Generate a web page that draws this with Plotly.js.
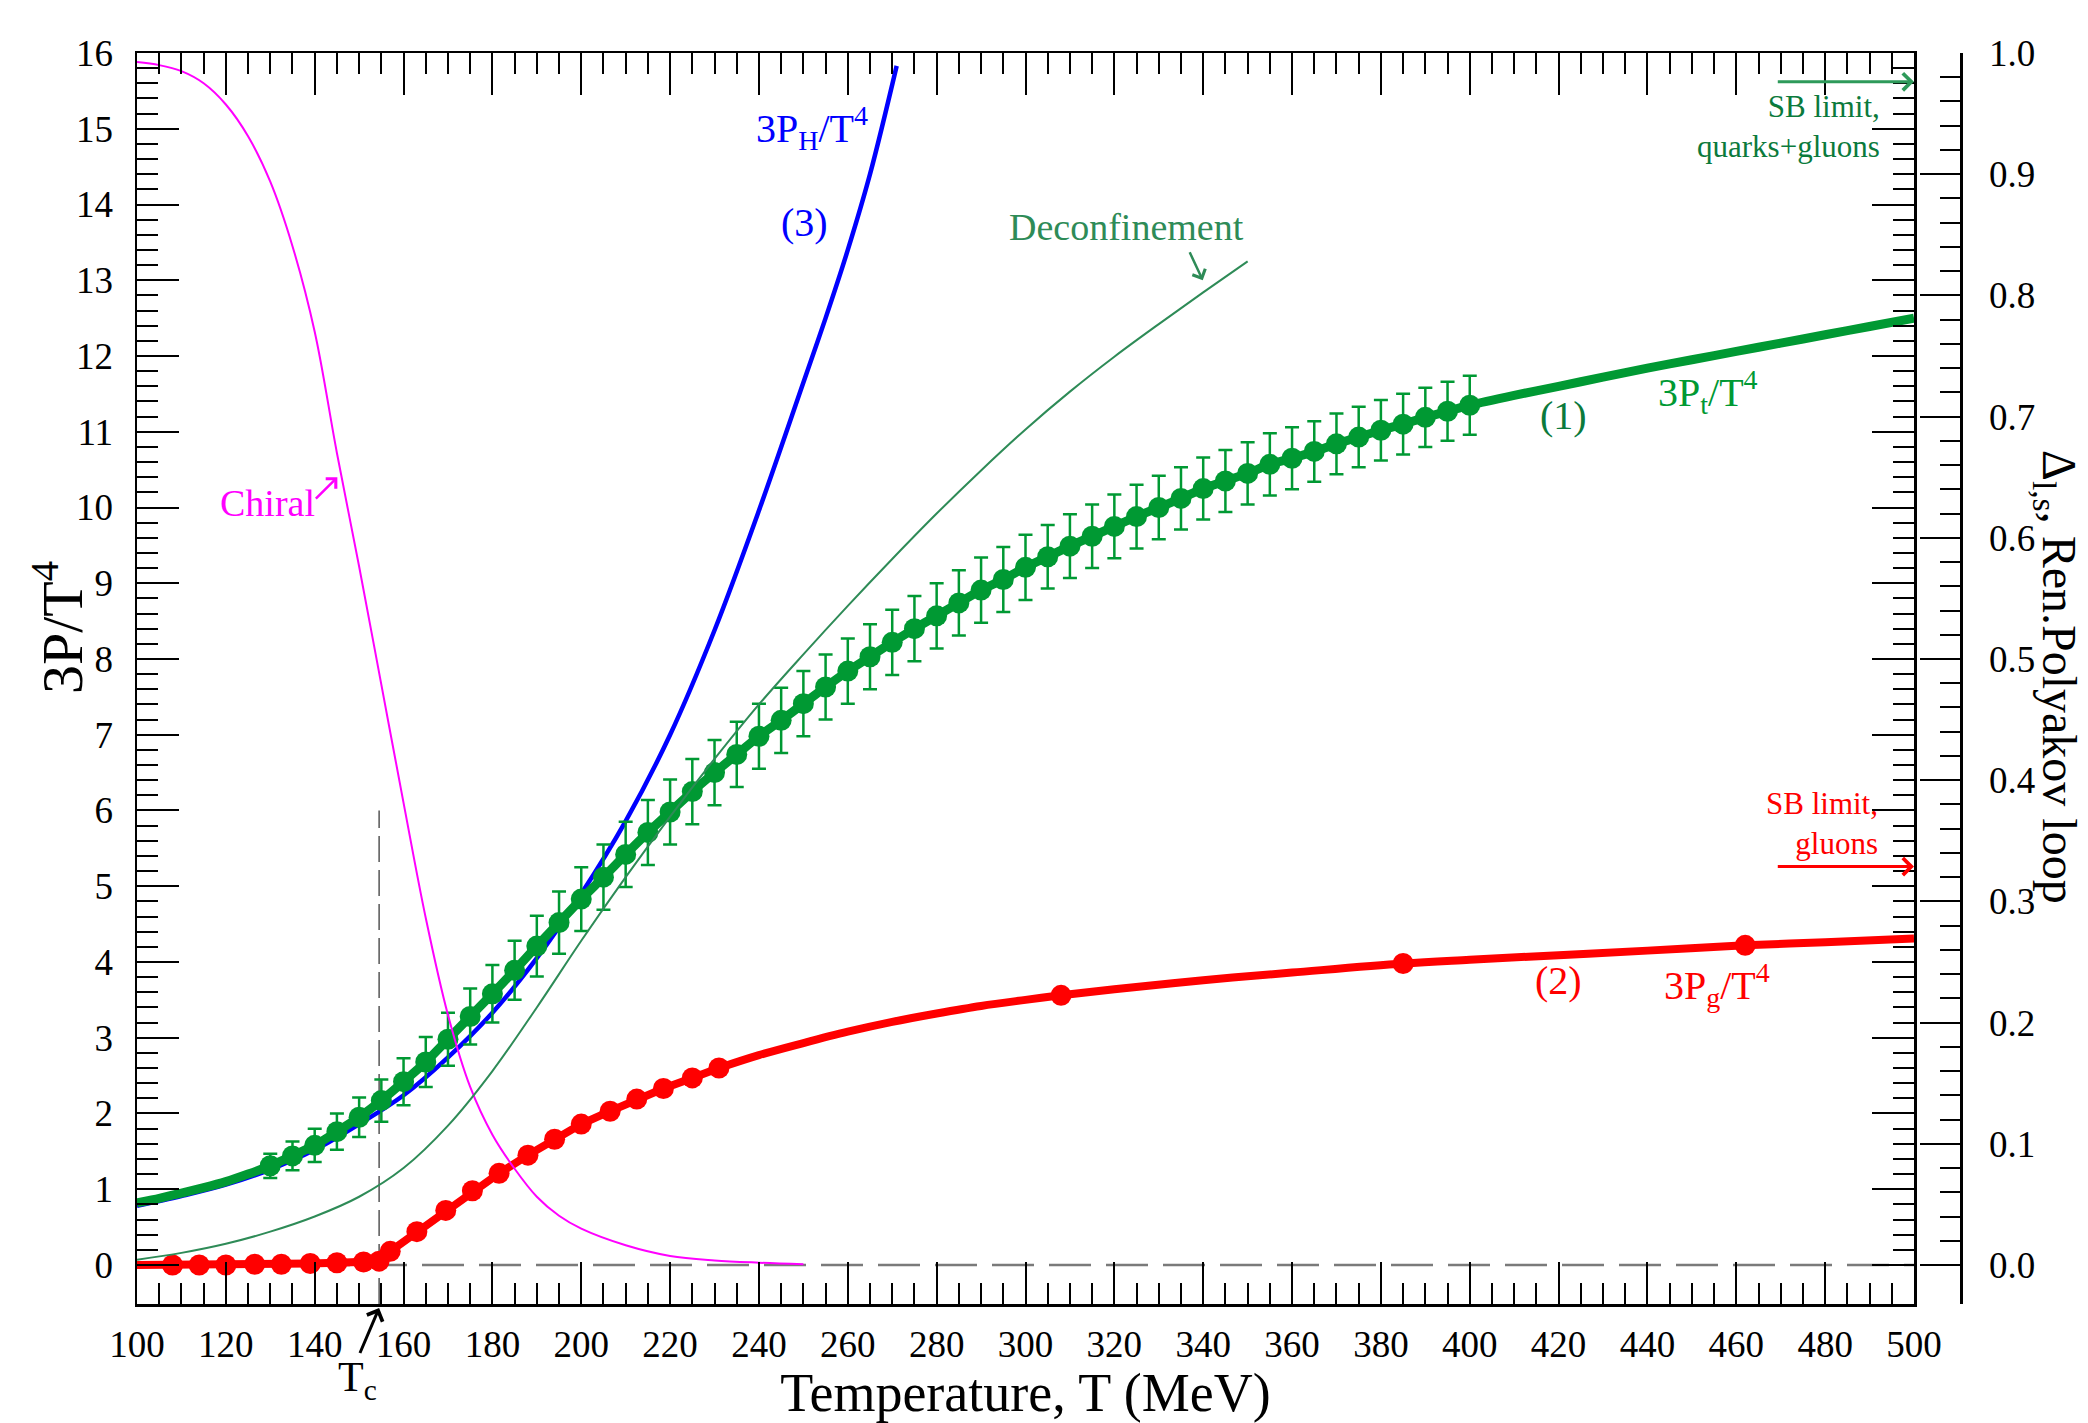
<!DOCTYPE html>
<html>
<head>
<meta charset="utf-8">
<script src="https://cdn.plot.ly/plotly-3.0.1.min.js"></script>
<style>html,body{margin:0;padding:0;background:#fff}</style>
</head>
<body>
<div id="chart" style="width:2088px;height:1423px"></div>
<script>
// ---------------- data ----------------
const Tc = 154.5;
// total pressure 3P_t/T^4 (lattice points with errors)
const T_pt = [130,135,140,145,150,155,160,165,170,175,180,185,190,195,200,205,210,215,220,225,230,235,240,245,250,255,260,265,270,275,280,285,290,295,300,305,310,315,320,325,330,335,340,345,350,355,360,365,370,375,380,385,390,395,400];
const P_pt = [1.31,1.44,1.58,1.76,1.95,2.17,2.42,2.68,2.98,3.28,3.58,3.89,4.21,4.52,4.83,5.12,5.42,5.71,5.98,6.25,6.50,6.74,6.98,7.19,7.41,7.63,7.84,8.03,8.22,8.40,8.57,8.74,8.91,9.05,9.21,9.35,9.49,9.62,9.75,9.88,10.00,10.12,10.25,10.35,10.45,10.57,10.65,10.74,10.84,10.93,11.02,11.10,11.19,11.27,11.35];
const E_pt = [0.16,0.19,0.22,0.24,0.26,0.28,0.31,0.33,0.35,0.37,0.38,0.39,0.40,0.41,0.42,
              0.43,0.43,0.43,0.43,0.43,0.43,0.43,0.43,0.43,0.43,0.43,0.43,0.43,0.43,0.43,0.43,0.43,0.43,0.43,0.43,
              0.42,0.42,0.42,0.42,0.42,0.42,
              0.41,0.41,0.41,0.41,0.41,0.41,
              0.40,0.40,0.40,0.40,0.40,
              0.39,0.39,0.39];
// smooth continuation of 3P_t/T^4 below and above the lattice points
const T_pt_low = [100,105,110,115,120,125];
const P_pt_low = [0.82,0.88,0.95,1.02,1.10,1.20];
const T_pt_high = [410,420,430,440,450,460,470,480,490,500];
const P_pt_high = [11.48,11.60,11.72,11.84,11.95,12.06,12.17,12.28,12.39,12.50];

// gluon pressure 3P_g/T^4
const T_pg_pts = [108,114,120,126.5,132.5,139,145,151,154.5,157,163,169.5,175.5,181.5,188,194,200,206.5,212.5,218.5,225,231,308,385,462];
const P_pg_pts = [0.00,0.00,0.00,0.01,0.01,0.02,0.03,0.04,0.05,0.18,0.44,0.72,0.98,1.21,1.45,1.66,1.86,2.03,2.19,2.33,2.47,2.60,3.56,3.98,4.22];
const T_pg_low = [100,108,114,120,126.5,132.5,139,145,151,154.5,157,163,169.5,175.5,181.5,188,194,200,206.5,212.5,218.5,225,231];
const P_pg_low = [0,0,0,0,0.01,0.01,0.02,0.03,0.04,0.05,0.18,0.44,0.72,0.98,1.21,1.45,1.66,1.86,2.03,2.19,2.33,2.47,2.60];
const T_pg_high = [231,240,250,260,270,280,290,300,308,320,340,360,385,400,420,440,462,480,500];
const P_pg_high = [2.60,2.77,2.93,3.08,3.21,3.32,3.42,3.50,3.56,3.64,3.76,3.86,3.98,4.03,4.09,4.15,4.22,4.26,4.31];

// hadron resonance gas 3P_H/T^4
const T_ph = [100,110,120,130,140,150,160,170,180,190,200,210,220,230,240,250,255,260,265,271];
const P_ph = [0.78,0.91,1.06,1.26,1.52,1.86,2.24,2.74,3.33,4.05,4.90,5.86,7.00,8.38,9.96,11.65,12.50,13.40,14.40,15.83];

// chiral order parameter Delta_{l,s} (right axis)
const T_chiral = [100,105,110,115,120,125,130,135,140,145,150,155,160,165,170,175,180,185,190,195,200,210,220,230,240,250];
const D_chiral = [0.9925,0.9900,0.9850,0.9750,0.9575,0.9313,0.8938,0.8406,0.7700,0.6700,0.5763,0.4788,0.3813,0.2863,0.2063,0.1469,0.1075,0.0794,0.0563,0.0406,0.0300,0.0163,0.0075,0.0038,0.0019,0.0006];

// renormalized Polyakov loop (right axis)
const T_loop = [100,110,120,130,140,150,160,170,180,190,200,210,220,230,240,250,260,270,280,290,300,310,320,330,340,350];
const L_loop = [0.0044,0.0100,0.0175,0.0275,0.0400,0.0563,0.0800,0.1150,0.1600,0.2125,0.2675,0.3200,0.3700,0.4175,0.4625,0.5038,0.5438,0.5825,0.6200,0.6556,0.6894,0.7206,0.7494,0.7763,0.8025,0.8281];

// Stefan-Boltzmann limits of 3P/T^4
const SB_qg = 15.62;
const SB_g = 5.26;

const xTicks = [100,120,140,160,180,200,220,240,260,280,300,320,340,360,380,400,420,440,460,480,500];

// ---------------- helpers ----------------
function steps(a, b, s) { const r = []; for (let v = a; v <= b + 1e-9; v += s) r.push(+v.toFixed(4)); return r; }
const FONT = 'Liberation Serif, Times New Roman, serif';
const GREEN = '#009933', DKGREEN = '#0b7a3c', SEAGREEN = '#2e8b57';

// ---------------- traces ----------------
const traces = [
  { x: T_chiral, y: D_chiral, yaxis: 'y2', mode: 'lines', line: { color: '#ff00ff', width: 2, shape: 'spline' } },
  { x: T_loop, y: L_loop, yaxis: 'y2', mode: 'lines', line: { color: SEAGREEN, width: 2, shape: 'spline' } },
  { x: T_ph, y: P_ph, mode: 'lines', line: { color: '#0000ff', width: 4.5, shape: 'spline' } },
  { x: T_pt_low.concat(T_pt, T_pt_high), y: P_pt_low.concat(P_pt, P_pt_high), mode: 'lines', line: { color: GREEN, width: 9, shape: 'spline', smoothing: 0.6 } },
  { x: T_pt, y: P_pt, mode: 'markers', marker: { color: GREEN, size: 21 },
    error_y: { type: 'data', array: E_pt, visible: true, color: GREEN, thickness: 2.5, width: 7 } },
  { x: T_pg_low, y: P_pg_low, mode: 'lines', line: { color: '#ff0000', width: 8 } },
  { x: T_pg_high, y: P_pg_high, mode: 'lines', line: { color: '#ff0000', width: 8, shape: 'spline' } },
  { x: T_pg_pts, y: P_pg_pts, mode: 'markers', marker: { color: '#ff0000', size: 21 } }
];

// ---------------- layout ----------------
const L = 137, R = 1961, TOP = 53, BOT = 1304;
const px = v => (v - L) / (R - L);
const py = v => (BOT - v) / (BOT - TOP);

function txt(text, x, y, color, size, extra) {
  return Object.assign({ text, x: px(x), y: py(y), xref: 'paper', yref: 'paper', showarrow: false,
    xanchor: 'center', yanchor: 'middle', font: { family: FONT, size, color } }, extra || {});
}
function arrow(x, y, ax, ay, color, extra) {
  return Object.assign({ text: ' ', x, y, xref: 'x', yref: 'y', ax, ay, showarrow: true,
    arrowhead: 4, arrowsize: 1.1, arrowwidth: 3, arrowcolor: color, standoff: 0, startstandoff: 0,
    font: { size: 1 } }, extra || {});
}

const annotations = [
  txt('3P<sub>H</sub>/T<sup>4</sup>', 812, 128, '#0000ff', 40),
  txt('(3)', 804, 223, '#0000ff', 40),
  txt('Deconfinement', 1126, 227, SEAGREEN, 38),
  txt('Chiral', 267, 503, '#ff00ff', 38),
  txt('3P<sub>t</sub>/T<sup>4</sup>', 1708, 392, GREEN, 40),
  txt('(1)', 1563, 416, DKGREEN, 40),
  txt('SB limit,<br>quarks+gluons', 1882, 126, DKGREEN, 31, { xanchor: 'right', align: 'right' }),
  txt('SB limit,<br>gluons', 1880, 824, '#ff0000', 31, { xanchor: 'right', align: 'right' }),
  txt('(2)', 1558, 980, '#ff0000', 40),
  txt('3P<sub>g</sub>/T<sup>4</sup>', 1717, 985, '#ff0000', 40),
  txt('T<sub>c</sub>', 357, 1380, '#000000', 42),
  // axis titles on the left and right
  txt('3P/T<sup>4</sup>', 58, 628, '#000000', 58, { textangle: -90 }),
  txt('Δ<sub>l,s</sub>, Ren.Polyakov loop', 2056, 677, '#000000', 48, { textangle: 90 }),
  // arrows
  arrow(500, SB_qg, 469, SB_qg, '#2e9a5a', { axref: 'x', ayref: 'y' }),
  arrow(500, SB_g, 469, SB_g, '#ff0000', { axref: 'x', ayref: 'y' }),
  arrow(Tc, py(1308), -20, 47, '#000000', { yref: 'paper' }),
  arrow(145.1, 10.40, -23, 23, '#ff00ff', { arrowwidth: 2.5 }),
  arrow(339.9, 13.0, -14, -30, SEAGREEN, { arrowwidth: 2.5 })
];

const shapes = [
  { type: 'line', xref: 'x', yref: 'y', x0: 100, x1: 500, y0: 0, y1: 0, layer: 'below',
    line: { color: '#7a7a7a', width: 2.5, dash: '42px,15px' } },
  { type: 'line', xref: 'x', yref: 'y', x0: Tc, x1: Tc, y0: -0.515, y1: 6, layer: 'below',
    line: { color: '#555555', width: 1.5, dash: '26px,8px' } }
];

const axCommon = {
  showgrid: false, zeroline: false, showline: true, linecolor: '#000', linewidth: 2.5,
  ticks: 'inside', tickcolor: '#000', tickwidth: 2,
  tickfont: { family: FONT, size: 37, color: '#000' }
};

const layout = {
  width: 2088, height: 1423, autosize: false,
  margin: { l: L, r: 2088 - R, t: TOP, b: 1423 - BOT, pad: 0 },
  paper_bgcolor: '#fff', plot_bgcolor: '#fff',
  showlegend: false, hovermode: false,
  font: { family: FONT, color: '#000' },
  xaxis: Object.assign({}, axCommon, {
    domain: [0, (1914 - L) / (R - L)], range: [100, 500],
    tickmode: 'array', tickvals: xTicks, ticktext: xTicks.map(String),
    ticklen: 42, mirror: 'ticks', ticklabelstandoff: 6,
    minor: { tickmode: 'array', tickvals: steps(100, 500, 5), ticks: 'inside', ticklen: 21, tickwidth: 2, tickcolor: '#000', showgrid: false },
    title: { text: 'Temperature, T (MeV)', font: { family: FONT, size: 54, color: '#000' }, standoff: 31 }
  }),
  yaxis: Object.assign({}, axCommon, {
    range: [-0.515, 16], tickmode: 'linear', tick0: 0, dtick: 1,
    ticklen: 42, mirror: 'ticks', ticklabelstandoff: 14,
    minor: { tickmode: 'array', tickvals: steps(0, 16, 0.2), ticks: 'inside', ticklen: 21, tickwidth: 2, tickcolor: '#000', showgrid: false }
  }),
  yaxis2: Object.assign({}, axCommon, {
    overlaying: 'y', side: 'right', anchor: 'free', position: 1,
    range: [-0.515 / 16, 1], tickmode: 'linear', tick0: 0, dtick: 0.1, tickformat: '.1f',
    ticklen: 40, ticklabelstandoff: 19,
    minor: { tickmode: 'array', tickvals: steps(0, 1, 0.02), ticks: 'inside', ticklen: 20, tickwidth: 2, tickcolor: '#000', showgrid: false }
  }),
  annotations, shapes
};

Plotly.newPlot('chart', traces, layout, { staticPlot: true, displayModeBar: false });
</script>
</body>
</html>
